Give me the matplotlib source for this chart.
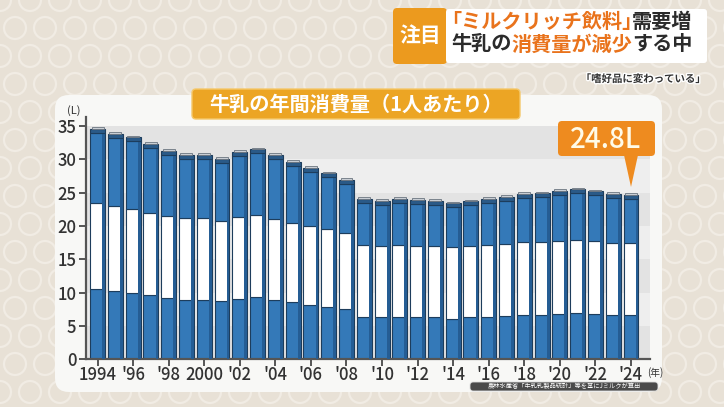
import matplotlib
matplotlib.use('Agg')
import matplotlib.pyplot as plt
import matplotlib.patheffects as pe
from matplotlib.patches import FancyBboxPatch, Circle, Polygon

plt.rcParams['font.family'] = ['Noto Sans CJK JP', 'DejaVu Sans']

years = list(range(1994, 2025))
# lower blue segment top, white segment top, total (L per person)
lower = [10.5, 10.3, 10.0, 9.6, 9.2, 8.9, 8.9, 8.8, 9.1, 9.3, 8.9, 8.6, 8.2, 7.9, 7.5,
         6.4, 6.3, 6.4, 6.3, 6.3, 6.1, 6.3, 6.4, 6.5, 6.6, 6.7, 6.8, 6.9, 6.8, 6.6, 6.6]
middle_top = [23.4, 23.0, 22.6, 22.0, 21.5, 21.2, 21.2, 20.8, 21.4, 21.6, 21.1, 20.5, 20.0, 19.5, 18.9,
              17.2, 17.0, 17.2, 17.0, 17.0, 16.8, 17.0, 17.2, 17.3, 17.6, 17.6, 17.8, 17.9, 17.8, 17.5, 17.5]
total = [34.7, 33.9, 33.4, 32.4, 31.4, 30.8, 30.8, 30.2, 31.2, 31.6, 30.8, 29.7, 28.8, 28.0, 27.0,
         24.2, 23.9, 24.2, 24.0, 23.9, 23.5, 23.8, 24.2, 24.5, 24.9, 25.0, 25.4, 25.6, 25.3, 24.9, 24.8]
tick_years = list(range(1994, 2025, 2))
tick_labels = ['1994', "'96", "'98", '2000', "'02", "'04", "'06", "'08", "'10",
               "'12", "'14", "'16", "'18", "'20", "'22", "'24"]
yticks = [0, 5, 10, 15, 20, 25, 30, 35]
callout = '24.8L'

W, H = 724, 407
fig = plt.figure(figsize=(W / 100, H / 100), dpi=100)
fig.patch.set_facecolor('#e8e1d6')

# background layer in pixel coords
bg = fig.add_axes([0, 0, 1, 1], zorder=0)
bg.set_xlim(0, W)
bg.set_ylim(H, 0)
bg.axis('off')
for row in range(0, 16):
    for col in range(0, 28):
        cx = col * 30 + (15 if row % 2 else 0)
        cy = row * 28
        bg.add_patch(Circle((cx, cy), 11, fill=False, ec='#f1ece4', lw=1.6))
bg.add_patch(FancyBboxPatch((55, 95), 607, 297, boxstyle='round,pad=0,rounding_size=14',
                            fc='#f8f8f6', ec='none'))

# chart
blue = '#3479b8'
dark = '#1d3d5c'
ax = fig.add_axes([86 / W, (H - 359.3) / H, (650 - 86) / W, (359.3 - 117.3) / H], zorder=1)
ax.set_facecolor('none')
ax.set_xlim(1993.35, 2025.07)
ax.set_ylim(0, 36.3)
for y0 in yticks[:-1]:
    ax.axhspan(y0, y0 + 5, color='#e3e3e3' if (y0 // 5) % 2 == 0 else '#eeeeee', lw=0, zorder=0)

bw = 0.84
white_h = [m - l for m, l in zip(middle_top, lower)]
upper_h = [t - m for t, m in zip(total, middle_top)]
ax.bar(years, lower, width=bw, color=blue, edgecolor=dark, lw=0.8, zorder=2)
ax.bar(years, white_h, bottom=lower, width=bw, color='white', edgecolor=dark, lw=0.8, zorder=2)
ax.bar(years, [u - 0.7 for u in upper_h], bottom=middle_top, width=bw, color=blue,
       edgecolor=dark, lw=0.8, zorder=2)
# darker side strip
ax.bar([y + bw / 2 - 0.08 for y in years], [t - 0.7 for t in total], width=0.16,
       color='#255d94', lw=0, zorder=3)
# 3D cap
ax.bar(years, [0.6] * len(years), bottom=[t - 0.7 for t in total], width=bw,
       color='#2a5a88', edgecolor=dark, lw=0.8, zorder=3)
ax.bar(years, [0.25] * len(years), bottom=[t - 0.1 for t in total], width=bw * 0.8,
       color='#c9ced4', edgecolor='#6b7580', lw=0.6, zorder=3)

for s in ['top', 'right']:
    ax.spines[s].set_visible(False)
ax.spines['left'].set_color('#555555')
ax.spines['bottom'].set_color('#555555')
ax.spines['left'].set_linewidth(1.6)
ax.spines['bottom'].set_linewidth(1.6)
ax.set_yticks(yticks)
ax.set_xticks(tick_years)
ax.set_xticklabels(tick_labels)
ax.tick_params(axis='both', colors='#555555', width=1.4, length=5, labelsize=12,
               labelcolor='#333333')
ax.tick_params(axis='x', pad=0)
ax.tick_params(axis='y', pad=2)
for lab in ax.get_xticklabels() + ax.get_yticklabels():
    lab.set_fontweight('medium')

# foreground annotations
fg = fig.add_axes([0, 0, 1, 1], zorder=3)
fg.set_xlim(0, W)
fg.set_ylim(H, 0)
fg.axis('off')
fg.patch.set_alpha(0)

fg.text(74, 111, '(L)', fontsize=8, color='#333333', ha='center', va='center')
fg.text(647, 373, '(年)', fontsize=7, color='#333333', ha='left', va='center')

# title badge
fg.add_patch(FancyBboxPatch((192, 89), 328, 30, boxstyle='round,pad=0,rounding_size=4',
                            fc='#eca524', ec='#f5c86a', lw=1))
fg.text(356, 104, '牛乳の年間消費量（1人あたり）', fontsize=14.5, color='white',
        fontweight='bold', ha='center', va='center')

# value callout
fg.add_patch(FancyBboxPatch((558, 121), 97, 35, boxstyle='round,pad=0,rounding_size=4',
                            fc='#ee8b1f', ec='none'))
fg.add_patch(Polygon([(624, 155), (638, 155), (631, 187)], closed=True, fc='#ee8b1f', ec='none'))
fg.text(606, 139, callout, fontsize=20, color='#fffbe8', ha='center', va='center',
        fontweight='medium')

# source note
fg.add_patch(FancyBboxPatch((470, 382), 188, 9, boxstyle='round,pad=0,rounding_size=3',
                            fc='#4a4a4a', ec='#dddddd', lw=0.6))
fg.text(564, 386.5, '農林水産省「牛乳乳製品統計」等を基にJミルクが算出', fontsize=4.5,
        color='white', ha='center', va='center')

# headline box
fg.add_patch(FancyBboxPatch((393, 8), 54, 56, boxstyle='round,pad=0,rounding_size=4',
                            fc='#ec9a1e', ec='none'))
fg.add_patch(FancyBboxPatch((446, 9), 261, 54, boxstyle='round,pad=0,rounding_size=3',
                            fc='white', ec='none'))
fg.text(420, 36, '注目', fontsize=15, color='white', fontweight='bold', ha='center', va='center')

orange = '#e9731c'
black = '#2b2b2b'


def chain(x, y, parts, size):
    t = fg.text(x, y, parts[0][0], fontsize=size, color=parts[0][1], fontweight='bold',
                ha='left', va='center')
    for s, c in parts[1:]:
        t = fg.annotate(s, xy=(1, 0.5), xycoords=t, fontsize=size, color=c,
                        fontweight='bold', ha='left', va='center')


chain(451, 21, [('｢ミルクリッチ飲料｣', orange), ('需要増', black)], 14.5)
chain(451, 44, [('牛乳の', black), ('消費量が減少', orange), ('する中', black)], 14.5)

fg.text(643, 79, '「嗜好品に変わっている」', fontsize=7.5, color='#333333', ha='center',
        va='center', fontweight='bold',
        path_effects=[pe.withStroke(linewidth=2, foreground='white')])

fig.savefig('out.png', dpi=100, facecolor=fig.get_facecolor())
